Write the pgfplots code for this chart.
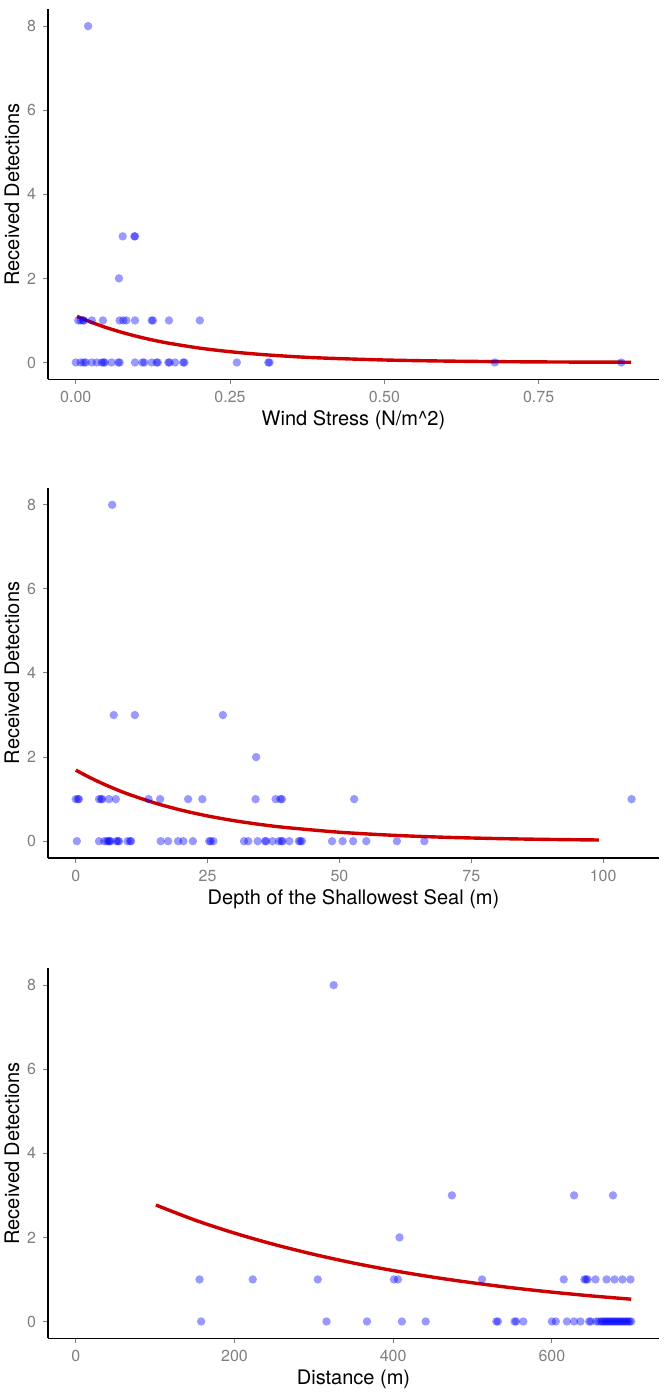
\documentclass[border=0pt]{standalone}
\usepackage{fontspec}
\setmainfont{TeX Gyre Heros}
\usepackage{pgfplots}
\pgfplotsset{compat=1.18}
\definecolor{tickgray}{RGB}{128,128,128}
\definecolor{fitred}{RGB}{204,0,0}
\pgfplotsset{
  panel/.style={
    width=305.5pt, height=185pt, scale only axis,
    axis x line*=bottom, axis y line*=left,
    axis line style={black, line width=0.6pt, -},
    ymin=-0.4, ymax=8.4, ytick={0,2,4,6,8},
    tick align=outside, major tick length=2.5pt,
    tick style={tickgray, line width=0.5pt},
    every tick label/.append style={font=\fontsize{8}{9.6}\selectfont, text=tickgray},
    /pgf/number format/assume math mode=true,
    ylabel={Received Detections},
    every axis y label/.style={at={(axis description cs:-0.0589,0.5)}, rotate=90, anchor=center, font=\fontsize{10}{12}\selectfont},
    every axis x label/.style={at={(axis description cs:0.5,-0.111)}, anchor=center, font=\fontsize{10}{12}\selectfont},
  },
  pts/.style={only marks, mark=*, mark size=2.1pt, color=blue, mark options={solid, draw=blue, fill=blue, draw opacity=0, fill opacity=0.4}},
  fitline/.style={no marks, fitred, line width=1.7pt, smooth},
}
\begin{document}
\begin{tikzpicture}
\path[use as bounding box] (0,0) rectangle (335.5pt,696.5pt);
% Panel 1
\begin{axis}[panel, at={(24pt,506.85pt)}, anchor=south west,
  xmin=-0.045, xmax=0.945, xtick={0,0.25,0.5,0.75}, xticklabels={0.00,0.25,0.50,0.75},
  xlabel={Wind Stress (N/m\textasciicircum 2)}]
\addplot[pts] coordinates {
(0.020,8)
(0.076,3) (0.095,3) (0.096,3)
(0.070,2)
(0.004,1) (0.008,1) (0.012,1) (0.013,1) (0.026,1) (0.044,1) (0.071,1) (0.077,1) (0.082,1) (0.096,1) (0.123,1) (0.125,1) (0.151,1) (0.201,1)
(0.000,0) (0.008,0) (0.013,0) (0.016,0) (0.026,0) (0.034,0) (0.042,0) (0.045,0) (0.047,0) (0.058,0) (0.069,0) (0.071,0) (0.096,0) (0.108,0) (0.111,0) (0.123,0) (0.131,0) (0.133,0) (0.150,0) (0.152,0) (0.161,0) (0.174,0) (0.176,0) (0.261,0) (0.312,0) (0.314,0) (0.679,0) (0.884,0)
};
\addplot[fitline] coordinates {
(0.002,1.097) (0.025,0.958) (0.05,0.827) (0.075,0.715) (0.1,0.617) (0.125,0.533) (0.15,0.460) (0.2,0.343) (0.25,0.256) (0.3,0.191) (0.35,0.142) (0.4,0.106) (0.5,0.059) (0.6,0.033) (0.7,0.018) (0.8,0.010) (0.9,0.006)
};
\end{axis}
% Panel 2
\begin{axis}[panel, at={(24pt,267.5pt)}, anchor=south west,
  xmin=-5.27, xmax=110.6, xtick={0,25,50,75,100},
  xlabel={Depth of the Shallowest Seal (m)}]
\addplot[pts] coordinates {
(6.9,8)
(7.2,3) (11.2,3) (27.9,3)
(34.2,2)
(0.0,1) (0.4,1) (0.6,1) (4.4,1) (4.8,1) (5.0,1) (6.3,1) (7.6,1) (13.8,1) (16.0,1) (21.3,1) (24.0,1) (34.1,1) (37.9,1) (38.8,1) (39.1,1) (52.8,1) (105.4,1)
(0.2,0) (4.4,0) (5.4,0) (5.9,0) (6.2,0) (6.4,0) (6.6,0) (7.7,0) (8.0,0) (8.2,0) (9.8,0) (10.3,0) (10.5,0) (16.1,0) (17.5,0) (19.4,0) (20.4,0) (22.2,0) (25.3,0) (25.6,0) (26.1,0) (31.9,0) (32.7,0) (34.5,0) (35.9,0) (36.1,0) (37.3,0) (38.5,0) (39.0,0) (39.2,0) (40.5,0) (42.3,0) (42.6,0) (42.9,0) (48.6,0) (50.6,0) (52.6,0) (55.1,0) (60.9,0) (66.1,0)
};
\addplot[fitline] coordinates {
(0,1.69) (2.5,1.524) (5,1.374) (7.5,1.239) (10,1.117) (15,0.908) (20,0.738) (25,0.600) (30,0.488) (35,0.397) (40,0.323) (50,0.213) (60,0.141) (70,0.093) (80,0.062) (90,0.041) (99.2,0.028)
};
\end{axis}
% Panel 3
\begin{axis}[panel, at={(24pt,27.35pt)}, anchor=south west,
  xmin=-35, xmax=735, xtick={0,200,400,600},
  xlabel={Distance (m)}]
\addplot[pts] coordinates {
(325,8)
(474,3) (628,3) (677,3)
(408,2)
(156,1) (223,1) (305,1) (401,1) (406,1) (512,1) (615,1) (641,1) (643,1) (645,1) (655,1) (669,1) (679,1) (689,1) (699,1)
(158,0) (316,0) (367,0) (411,0) (441,0) (530,0) (532,0) (553,0) (555,0) (564,0) (600,0) (605,0) (619,0) (628,0) (636,0) (647,0) (649,0) (656,0) (659,0) (662,0) (664,0) (666,0) (668,0) (670,0) (672,0) (674,0) (676,0) (678,0) (680,0) (682,0) (684,0) (686,0) (688,0) (690,0) (692,0) (694,0) (696,0) (698,0) (700,0)
};
\addplot[fitline] coordinates {
(101,2.77) (150,2.413) (200,2.102) (250,1.832) (300,1.596) (350,1.390) (400,1.211) (450,1.055) (500,0.920) (550,0.801) (600,0.698) (650,0.608) (700,0.530)
};
\end{axis}
\end{tikzpicture}
\end{document}
